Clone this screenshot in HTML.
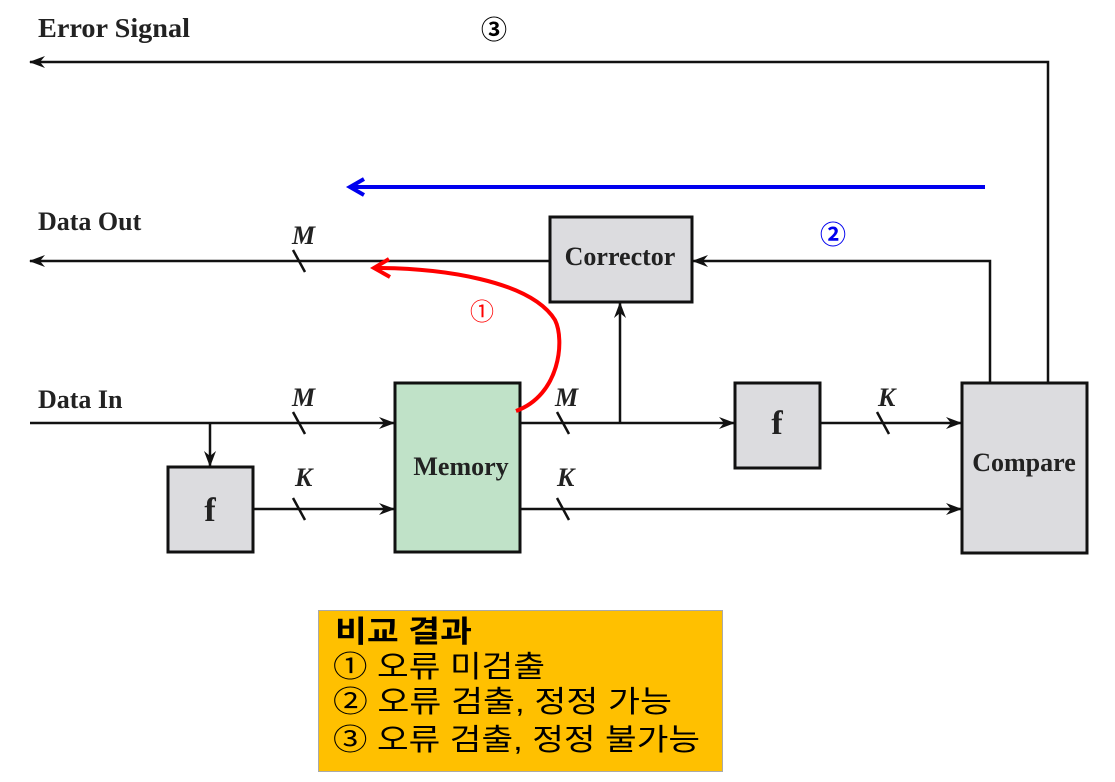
<!DOCTYPE html>
<html><head><meta charset="utf-8"><style>
html,body{margin:0;padding:0;background:#fff;}
svg{display:block}
.s{font-family:"Liberation Serif",serif;font-weight:bold;fill:#222}
.i{font-family:"Liberation Serif",serif;font-weight:bold;font-style:italic;fill:#222;font-size:26px}
.k{font-family:"Liberation Sans","Noto Sans CJK KR",sans-serif;font-size:30px;fill:#000}
</style></head><body>
<svg width="1115" height="782" viewBox="0 0 1115 782" xmlns="http://www.w3.org/2000/svg">
<defs>
<marker id="a" markerWidth="16" markerHeight="12" refX="15" refY="6" orient="auto" markerUnits="userSpaceOnUse">
<path d="M0,0 L16,6 L0,12 L5,6 z" fill="#111"/></marker>
</defs>
<g stroke="#111" stroke-width="2.5" fill="none">
<path d="M1048,383 V62 H30" marker-end="url(#a)"/>
<path d="M550,261 H30" marker-end="url(#a)"/>
<path d="M990,383 V261 H693" marker-end="url(#a)"/>
<path d="M30,423 H394" marker-end="url(#a)"/>
<path d="M210,423 V466" marker-end="url(#a)"/>
<path d="M253,509 H394" marker-end="url(#a)"/>
<path d="M520,423 H734" marker-end="url(#a)"/>
<path d="M620,423 V303" marker-end="url(#a)"/>
<path d="M820,423 H961" marker-end="url(#a)"/>
<path d="M520,509 H961" marker-end="url(#a)"/>
<path d="M293,250 L305,272 M293,412 L305,434 M293,498 L305,520 M557,412 L569,434 M557,498 L569,520 M877,412 L889,434"/>
</g>
<g stroke="#111" stroke-width="3">
<rect x="550" y="217" width="142" height="85" fill="#dcdcdf"/>
<rect x="168" y="467" width="85" height="85" fill="#dcdcdf"/>
<rect x="395" y="383" width="125" height="169" fill="#c0e2c8"/>
<rect x="735" y="383" width="85" height="85" fill="#dcdcdf"/>
<rect x="962" y="383" width="125" height="170" fill="#dcdcdf"/>
</g>
<text class="s" x="38" y="37" font-size="27" textLength="152" lengthAdjust="spacingAndGlyphs">Error Signal</text>
<text class="s" x="38" y="230" font-size="26">Data Out</text>
<text class="s" x="38" y="408" font-size="26">Data In</text>
<text class="s" x="620" y="265" font-size="26" text-anchor="middle">Corrector</text>
<text class="s" x="461" y="475" font-size="26" text-anchor="middle">Memory</text>
<text class="s" x="1024" y="471" font-size="26" text-anchor="middle">Compare</text>
<text class="s" x="210" y="521" font-size="34" text-anchor="middle">f</text>
<text class="s" x="777" y="434" font-size="34" text-anchor="middle">f</text>
<text class="i" x="292" y="244">M</text>
<text class="i" x="292" y="406">M</text>
<text class="i" x="295" y="486">K</text>
<text class="i" x="555" y="406">M</text>
<text class="i" x="557" y="486">K</text>
<text class="i" x="878" y="406">K</text>
<path d="M985,187 H352" stroke="#0000ee" stroke-width="4" fill="none"/>
<path d="M364,179 L350,187 L364,195" stroke="#0000ee" stroke-width="4" fill="none"/>
<path d="M516,411 C560,395 565,340 555,320 C530,280 440,268 374,268" stroke="#f00" stroke-width="4" fill="none"/>
<path d="M389,259 L374,268 L390,277" stroke="#f00" stroke-width="4" fill="none"/>
<text x="482" y="320" font-family="Liberation Sans,'Noto Sans CJK KR',sans-serif" font-size="24" fill="#f00" text-anchor="middle">①</text>
<text x="833" y="244" font-family="Liberation Sans,'Noto Sans CJK KR',sans-serif" font-size="26" font-weight="bold" fill="#0000ee" text-anchor="middle">②</text>
<text x="494" y="39" font-family="Liberation Sans,'Noto Sans CJK KR',sans-serif" font-size="26" font-weight="bold" fill="#000" text-anchor="middle">③</text>
<rect x="318.5" y="610.5" width="404" height="161" fill="#ffc000" stroke="#aaa" stroke-width="1"/>
<text class="k" x="335" y="642" font-weight="bold" textLength="137" lengthAdjust="spacingAndGlyphs">비교 결과</text>
<text class="k" x="333" y="677" textLength="212" lengthAdjust="spacingAndGlyphs">① 오류 미검출</text>
<text class="k" x="333" y="712" textLength="339" lengthAdjust="spacingAndGlyphs">② 오류 검출, 정정 가능</text>
<text class="k" x="333" y="750" textLength="367" lengthAdjust="spacingAndGlyphs">③ 오류 검출, 정정 불가능</text>
</svg>
</body></html>
